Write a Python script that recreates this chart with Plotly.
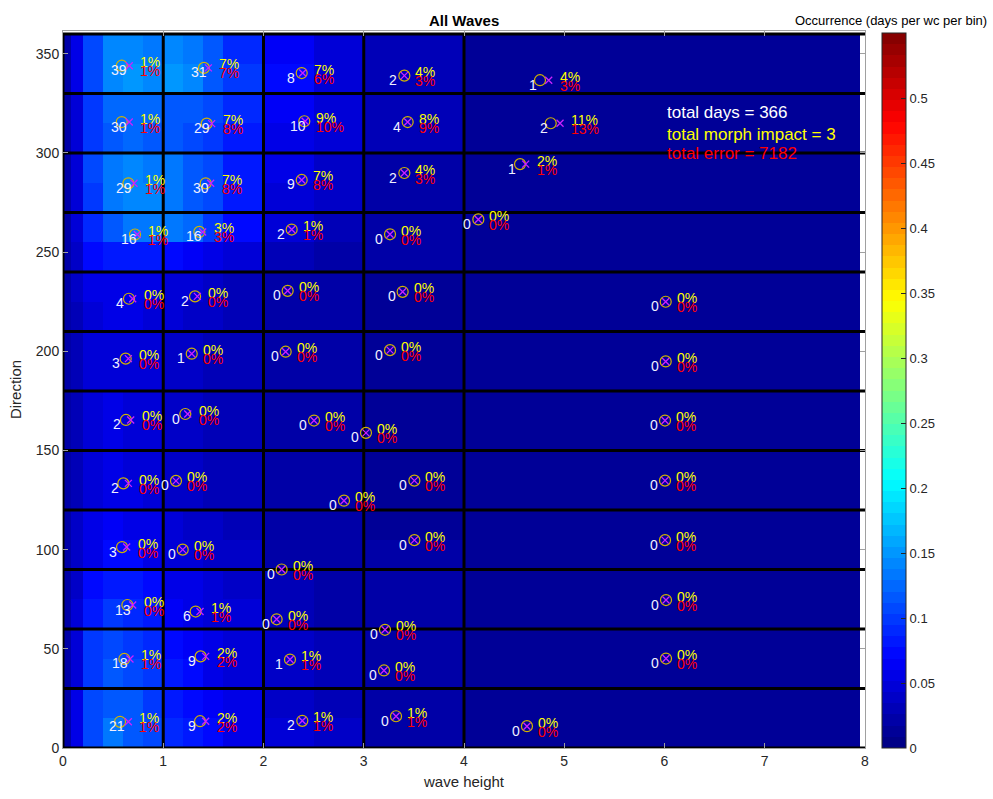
import plotly.graph_objects as go

# ---------------- data ----------------
hs_edges = [0, 0.08, 0.2, 0.4, 0.6, 0.8, 1.0, 1.2, 1.4, 1.6, 2.0, 2.5, 3.0, 4.0, 7.95]
dir_edges_fine = list(range(0, 361, 15))
occurrence = [
    [0.02, 0.06, 0.11, 0.13, 0.12, 0.11, 0.09, 0.085, 0.075, 0.06, 0.045, 0.035, 0.025, 0.015],
    [0.02, 0.06, 0.105, 0.12, 0.115, 0.10, 0.085, 0.075, 0.065, 0.055, 0.04, 0.03, 0.022, 0.015],
    [0.02, 0.05, 0.10, 0.115, 0.11, 0.095, 0.08, 0.07, 0.06, 0.05, 0.04, 0.03, 0.02, 0.015],
    [0.02, 0.05, 0.095, 0.105, 0.10, 0.09, 0.075, 0.065, 0.055, 0.05, 0.035, 0.028, 0.02, 0.015],
    [0.02, 0.045, 0.08, 0.095, 0.09, 0.08, 0.065, 0.06, 0.05, 0.045, 0.03, 0.025, 0.02, 0.015],
    [0.02, 0.04, 0.07, 0.085, 0.08, 0.075, 0.06, 0.055, 0.05, 0.04, 0.03, 0.022, 0.018, 0.015],
    [0.02, 0.035, 0.06, 0.07, 0.07, 0.06, 0.05, 0.045, 0.04, 0.035, 0.025, 0.02, 0.018, 0.015],
    [0.02, 0.035, 0.055, 0.065, 0.06, 0.055, 0.045, 0.04, 0.035, 0.03, 0.025, 0.02, 0.017, 0.015],
    [0.02, 0.03, 0.05, 0.06, 0.055, 0.05, 0.04, 0.035, 0.03, 0.028, 0.022, 0.02, 0.017, 0.015],
    [0.02, 0.03, 0.05, 0.055, 0.05, 0.045, 0.04, 0.035, 0.03, 0.027, 0.022, 0.02, 0.017, 0.015],
    [0.02, 0.03, 0.05, 0.055, 0.05, 0.045, 0.04, 0.035, 0.03, 0.027, 0.022, 0.02, 0.017, 0.015],
    [0.02, 0.03, 0.05, 0.055, 0.05, 0.045, 0.04, 0.035, 0.03, 0.027, 0.022, 0.02, 0.017, 0.015],
    [0.02, 0.03, 0.045, 0.05, 0.05, 0.045, 0.04, 0.035, 0.03, 0.027, 0.022, 0.02, 0.017, 0.015],
    [0.02, 0.03, 0.045, 0.05, 0.05, 0.045, 0.04, 0.035, 0.03, 0.027, 0.022, 0.02, 0.017, 0.015],
    [0.02, 0.03, 0.05, 0.055, 0.055, 0.05, 0.045, 0.04, 0.035, 0.03, 0.022, 0.02, 0.017, 0.015],
    [0.02, 0.035, 0.055, 0.06, 0.06, 0.055, 0.05, 0.045, 0.04, 0.032, 0.025, 0.02, 0.017, 0.015],
    [0.02, 0.04, 0.07, 0.085, 0.085, 0.08, 0.075, 0.065, 0.055, 0.045, 0.03, 0.022, 0.018, 0.015],
    [0.02, 0.05, 0.09, 0.12, 0.13, 0.13, 0.13, 0.125, 0.10, 0.075, 0.045, 0.03, 0.02, 0.015],
    [0.02, 0.05, 0.10, 0.13, 0.14, 0.14, 0.13, 0.12, 0.105, 0.085, 0.05, 0.035, 0.022, 0.015],
    [0.02, 0.05, 0.105, 0.13, 0.14, 0.135, 0.13, 0.12, 0.105, 0.085, 0.055, 0.04, 0.025, 0.015],
    [0.02, 0.05, 0.10, 0.12, 0.125, 0.12, 0.115, 0.11, 0.10, 0.085, 0.06, 0.045, 0.028, 0.015],
    [0.02, 0.05, 0.10, 0.125, 0.125, 0.125, 0.12, 0.115, 0.105, 0.09, 0.065, 0.05, 0.03, 0.015],
    [0.02, 0.055, 0.11, 0.14, 0.15, 0.14, 0.15, 0.14, 0.12, 0.10, 0.07, 0.05, 0.03, 0.015],
    [0.02, 0.055, 0.11, 0.14, 0.145, 0.13, 0.14, 0.13, 0.115, 0.09, 0.065, 0.05, 0.03, 0.015],
]

# wave-class bin edges (black grid)
class_hs_edges = [0, 1, 2, 3, 4]
class_dir_edges = list(range(0, 361, 30))

# per wave class: representative point (circle), morph point (x), counts and percentages
circ_x = [0.569, 1.367, 2.387, 3.322, 4.628,
          0.612, 1.373, 2.264, 3.202, 6.015,
          0.642, 1.323, 2.131, 3.212, 6.015,
          0.589, 1.194, 2.181, 3.505, 6.005,
          0.602, 1.127, 2.803, 3.505, 6.005,
          0.628, 1.220, 2.504, 3.022, 6.005,
          0.625, 1.284, 2.221, 3.262, 6.012,
          0.658, 1.317, 2.241, 3.388, 6.012,
          0.718, 1.360, 2.281, 3.262, 4.143,
          0.652, 1.423, 2.381, 3.405, 4.559,
          0.586, 1.433, 2.407, 3.438, 4.865,
          0.586, 1.406, 2.381, 3.405, 4.758]
circ_y = [13.2, 13.5, 13.7, 16.0, 11.0,
          44.9, 46.2, 44.6, 39.1, 45.1,
          72.1, 68.8, 64.9, 59.6, 74.6,
          101.3, 100.0, 90.0, 104.8, 104.8,
          133.4, 134.7, 124.7, 134.8, 134.8,
          165.4, 168.4, 165.1, 158.9, 165.1,
          196.3, 198.8, 199.8, 200.6, 194.9,
          226.5, 227.7, 230.5, 230.0, 225.0,
          258.9, 260.2, 261.4, 259.0, 266.5,
          284.7, 284.7, 286.4, 289.9, 294.4,
          315.6, 314.8, 316.0, 315.6, 315.0,
          344.0, 342.9, 340.3, 339.0, 336.7]
morph_x = [0.652, 1.423, 2.387, 3.322, 4.628,
           0.668, 1.423, 2.264, 3.202, 6.015,
           0.695, 1.367, 2.131, 3.212, 6.015,
           0.635, 1.194, 2.181, 3.505, 6.005,
           0.652, 1.127, 2.803, 3.505, 6.005,
           0.675, 1.244, 2.504, 3.022, 6.005,
           0.652, 1.284, 2.221, 3.262, 6.012,
           0.695, 1.340, 2.241, 3.388, 6.012,
           0.741, 1.393, 2.281, 3.262, 4.143,
           0.708, 1.473, 2.381, 3.405, 4.615,
           0.661, 1.483, 2.415, 3.438, 4.958,
           0.661, 1.450, 2.391, 3.405, 4.845]
morph_y = circ_y
counts = [21, 9, 2, 0, 0,
          18, 9, 1, 0, 0,
          13, 6, 0, 0, 0,
          3, 0, 0, 0, 0,
          2, 0, 0, 0, 0,
          2, 0, 0, 0, 0,
          3, 1, 0, 0, 0,
          4, 2, 0, 0, 0,
          16, 16, 2, 0, 0,
          29, 30, 9, 2, 1,
          30, 29, 10, 4, 2,
          39, 31, 8, 2, 1]
pct_morph = [1, 2, 1, 1, 0,
             1, 2, 1, 0, 0,
             0, 1, 0, 0, 0,
             0, 0, 0, 0, 0,
             0, 0, 0, 0, 0,
             0, 0, 0, 0, 0,
             0, 0, 0, 0, 0,
             0, 0, 0, 0, 0,
             1, 3, 1, 0, 0,
             1, 7, 7, 4, 2,
             1, 7, 9, 8, 11,
             1, 7, 7, 4, 4]
pct_error = [1, 2, 1, 1, 0,
             1, 2, 1, 0, 0,
             0, 1, 0, 0, 0,
             0, 0, 0, 0, 0,
             0, 0, 0, 0, 0,
             0, 0, 0, 0, 0,
             0, 0, 0, 0, 0,
             0, 0, 0, 0, 0,
             1, 3, 1, 0, 0,
             1, 8, 8, 3, 1,
             1, 8, 10, 9, 13,
             1, 7, 6, 3, 3]

summary_lines = ["total days = 366", "total morph impact = 3", "total error = 7182"]
summary_colors = ["white", "#ffff00", "#ff0000"]
summary_x = 6.015
summary_y = [320.5, 309.5, 299.5]

x_range = [0, 8]
y_range = [0, 361.5]
c_max = 0.55

# ---------------- styling helpers ----------------
def jet_color(t):
    def seg(v):
        return max(0.0, min(1.0, v))
    r = seg(1.5 - abs(4 * t - 3))
    g = seg(1.5 - abs(4 * t - 2))
    b = seg(1.5 - abs(4 * t - 1))
    return "rgb(%d,%d,%d)" % (round(r * 255), round(g * 255), round(b * 255))

n_steps = 64
jet_scale = []
for i in range(n_steps):
    c = jet_color((i + 0.5) / n_steps)
    jet_scale.append([i / n_steps, c])
    jet_scale.append([(i + 1) / n_steps, c])

FONT = "Liberation Sans, Arial, Helvetica, sans-serif"
TXT = "#262626"

fig = go.Figure()

fig.add_trace(go.Heatmap(
    x=hs_edges, y=dir_edges_fine, z=occurrence,
    colorscale=jet_scale, zmin=0, zmax=c_max,
    hoverinfo="skip",
    colorbar=dict(
        thickness=24, thicknessmode="pixels",
        x=(882 - 63) / 802, xanchor="left", xref="paper", xpad=0, ypad=0,
        y=0, yanchor="bottom", len=(753 - 33) / 722, lenmode="fraction",
        outlinewidth=1, outlinecolor=TXT,
        tickvals=[0, 0.05, 0.1, 0.15, 0.2, 0.25, 0.3, 0.35, 0.4, 0.45, 0.5],
        ticktext=["0", "0.05", "0.1", "0.15", "0.2", "0.25", "0.3", "0.35", "0.4", "0.45", "0.5"],
        ticks="inside", ticklen=5, tickcolor=TXT, tickwidth=1,
        tickfont=dict(family=FONT, size=13, color=TXT),
    ),
))

# black class-boundary grid
gx, gy = [], []
for d in class_dir_edges:
    gx += [x_range[0], x_range[1], None]
    gy += [d, d, None]
for h in class_hs_edges:
    gx += [h, h, None]
    gy += [class_dir_edges[0], class_dir_edges[-1], None]
fig.add_trace(go.Scatter(x=gx, y=gy, mode="lines",
                         line=dict(color="black", width=3),
                         hoverinfo="skip", showlegend=False))

fig.add_trace(go.Scatter(x=circ_x, y=circ_y, mode="markers",
                         marker=dict(symbol="circle-open", size=11, color="#d2b400",
                                     line=dict(width=1.2)),
                         hoverinfo="skip", showlegend=False))
fig.add_trace(go.Scatter(x=morph_x, y=morph_y, mode="markers",
                         marker=dict(symbol="x-thin-open", size=7, color="#cc22ff",
                                     line=dict(width=1.3)),
                         hoverinfo="skip", showlegend=False))

annotations = []
for cx, cy, mx, n, pm, pe in zip(circ_x, circ_y, morph_x, counts, pct_morph, pct_error):
    mid = (cx + mx) / 2
    annotations.append(dict(x=mid, y=cy, xref="x", yref="y", text=str(n),
                            showarrow=False, xanchor="left", yanchor="middle",
                            xshift=-16, yshift=-4.5, borderpad=0,
                            font=dict(family=FONT, size=14, color="#f0f0ff")))
    annotations.append(dict(x=mx, y=cy, xref="x", yref="y", text="%d%%" % pm,
                            showarrow=False, xanchor="left", yanchor="middle",
                            xshift=10, yshift=3.5, borderpad=0,
                            font=dict(family=FONT, size=14, color="#ffff00")))
    annotations.append(dict(x=mx, y=cy, xref="x", yref="y", text="%d%%" % pe,
                            showarrow=False, xanchor="left", yanchor="middle",
                            xshift=10, yshift=-5.5, borderpad=0,
                            font=dict(family=FONT, size=14, color="#ff0000")))

for line, col, yy in zip(summary_lines, summary_colors, summary_y):
    annotations.append(dict(x=summary_x, y=yy, xref="x", yref="y", text=line,
                            showarrow=False, xanchor="left", yanchor="middle",
                            borderpad=0,
                            font=dict(family=FONT, size=17, color=col)))

annotations.append(dict(x=0.5, y=1 + 11 / 722, xref="paper", yref="paper",
                        text="<b>All Waves</b>", showarrow=False,
                        xanchor="center", yanchor="middle",
                        font=dict(family=FONT, size=15, color="black")))
annotations.append(dict(x=(891 - 63) / 802, y=1 + 11 / 722, xref="paper", yref="paper",
                        text="Occurrence (days per wc per bin)", showarrow=False,
                        xanchor="center", yanchor="middle",
                        font=dict(family=FONT, size=13, color="black")))

axis_common = dict(showgrid=False, zeroline=False, showline=True, mirror="allticks",
                   linecolor="#a0a0a0", linewidth=1, ticks="inside", ticklen=5,
                   tickcolor="#a0a0a0", tickfont=dict(family=FONT, size=14, color=TXT))

fig.update_layout(
    width=993, height=799,
    margin=dict(l=63, r=128, t=31, b=46),
    paper_bgcolor="white", plot_bgcolor="white",
    showlegend=False,
    xaxis=dict(range=x_range, tickvals=list(range(0, 9)),
               title=dict(text="wave height", font=dict(family=FONT, size=15, color=TXT), standoff=8),
               **axis_common),
    yaxis=dict(range=y_range, tickvals=list(range(0, 351, 50)),
               title=dict(text="Direction", font=dict(family=FONT, size=15, color=TXT), standoff=10),
               **axis_common),
    annotations=annotations,
)

fig.write_html("out.html")
